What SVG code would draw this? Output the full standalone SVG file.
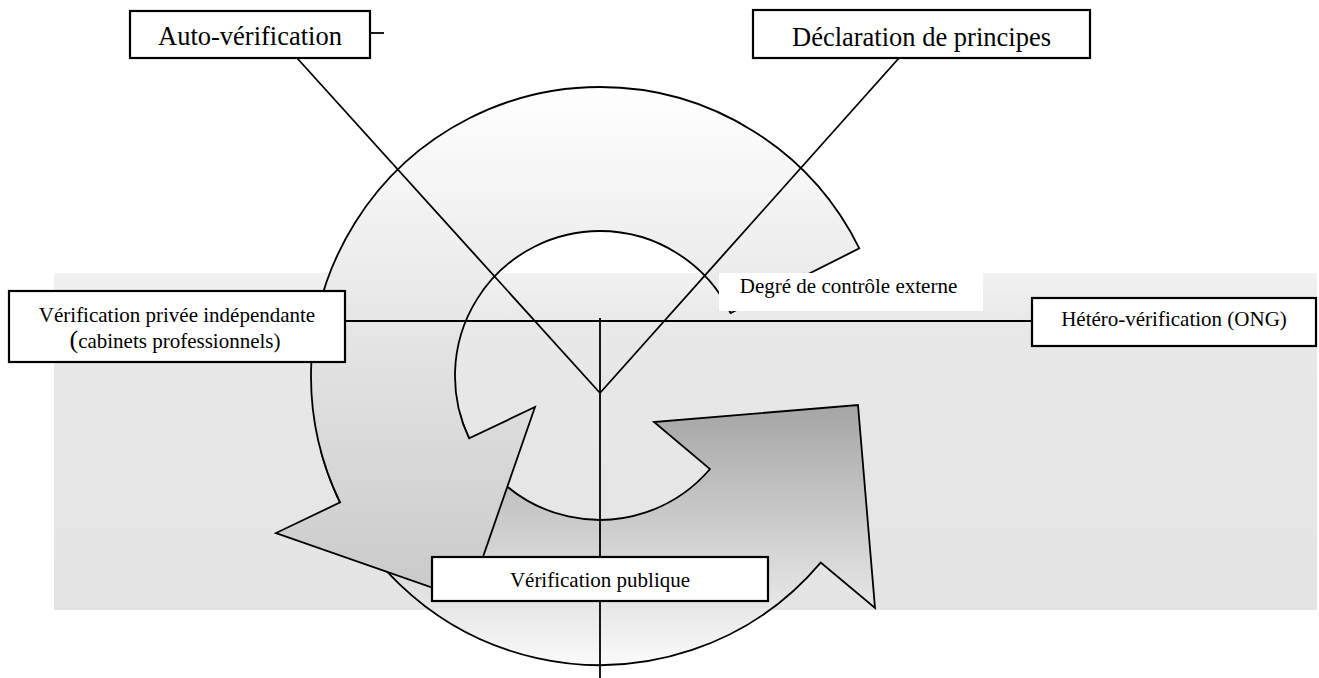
<svg xmlns="http://www.w3.org/2000/svg" width="1319" height="678" viewBox="0 0 1319 678">
<style>
.box{fill:#ffffff;stroke:#000000;stroke-width:2.2}
.ln{fill:none;stroke:#000000;stroke-width:1.8}
.arr{stroke:#000000;stroke-width:1.8;stroke-linejoin:miter}
.t{font-family:"Liberation Serif","Times New Roman",serif;fill:#000000;text-anchor:middle}
.big{font-size:26.5px}
.sm{font-size:21px}
</style>
<defs>
<linearGradient id="band" x1="0" y1="273" x2="0" y2="610" gradientUnits="userSpaceOnUse">
<stop offset="0" stop-color="#f2f2f2"/>
<stop offset="0.15" stop-color="#e8e8e8"/>
<stop offset="1" stop-color="#e4e4e4"/>
</linearGradient>
<linearGradient id="g1" x1="0" y1="87" x2="0" y2="600" gradientUnits="userSpaceOnUse">
<stop offset="0" stop-color="#ffffff"/>
<stop offset="1" stop-color="#c9c9c9"/>
</linearGradient>
<linearGradient id="g2" x1="0" y1="405" x2="0" y2="665" gradientUnits="userSpaceOnUse">
<stop offset="0" stop-color="#a5a5a5"/>
<stop offset="1" stop-color="#fafafa"/>
</linearGradient>
</defs>
<rect width="1319" height="678" fill="#ffffff"/>
<rect id="band-bg" x="54" y="273" width="1263" height="337" fill="url(#band)"/>
<g id="arrows">
<path id="arrow-2" class="arr" fill="url(#g2)" d="M320.8,450.8 A289,289 0 0 0 820.7,562.6 L875,608 L858,405 L654,422 L710,469 A145,145 0 0 1 459.9,413.5 Z"/>
<path id="arrow-1" class="arr" fill="url(#g1)" d="M859.3,248.4 A289,289 0 0 0 600,87 A289,289 0 0 0 340.1,502.4 L276,533 L468,600 L535,407 L469.1,438.4 A145,145 0 0 1 600,231 A145,145 0 0 1 730.6,313 Z"/>
</g>
<g id="connectors">
<line class="ln" x1="297" y1="58" x2="600" y2="393"/>
<line class="ln" x1="600" y1="393" x2="899" y2="58"/>
<line class="ln" x1="345" y1="321" x2="1032" y2="321"/>
<line class="ln" x1="600" y1="318" x2="600" y2="678"/>
<line class="ln" x1="370" y1="33" x2="384" y2="33"/>
</g>
<g id="node-auto">
<rect class="box" x="130" y="11" width="240" height="47"/>
<text class="t big" x="250" y="45">Auto-vérification</text>
</g>
<g id="node-declaration">
<rect class="box" x="753" y="10" width="337" height="48"/>
<text class="t big" x="921.5" y="46">Déclaration de principes</text>
</g>
<g id="node-privee">
<rect class="box" x="9" y="291" width="336" height="71"/>
<text class="t sm" x="177" y="322">Vérification privée indépendante</text>
<text class="t sm" x="175" y="348"><tspan font-size="26px">(</tspan>cabinets professionnels)</text>
</g>
<g id="node-degre">
<rect x="719" y="273" width="264" height="38" fill="#ffffff"/>
<text class="t sm" x="848.5" y="293">Degré de contrôle externe</text>
</g>
<g id="node-hetero">
<rect class="box" x="1032" y="298" width="284" height="48"/>
<text class="t sm" x="1174" y="326">Hétéro-vérification (ONG)</text>
</g>
<g id="node-publique">
<rect class="box" x="432" y="557" width="336" height="44"/>
<text class="t sm" x="600" y="587">Vérification publique</text>
</g>
</svg>
